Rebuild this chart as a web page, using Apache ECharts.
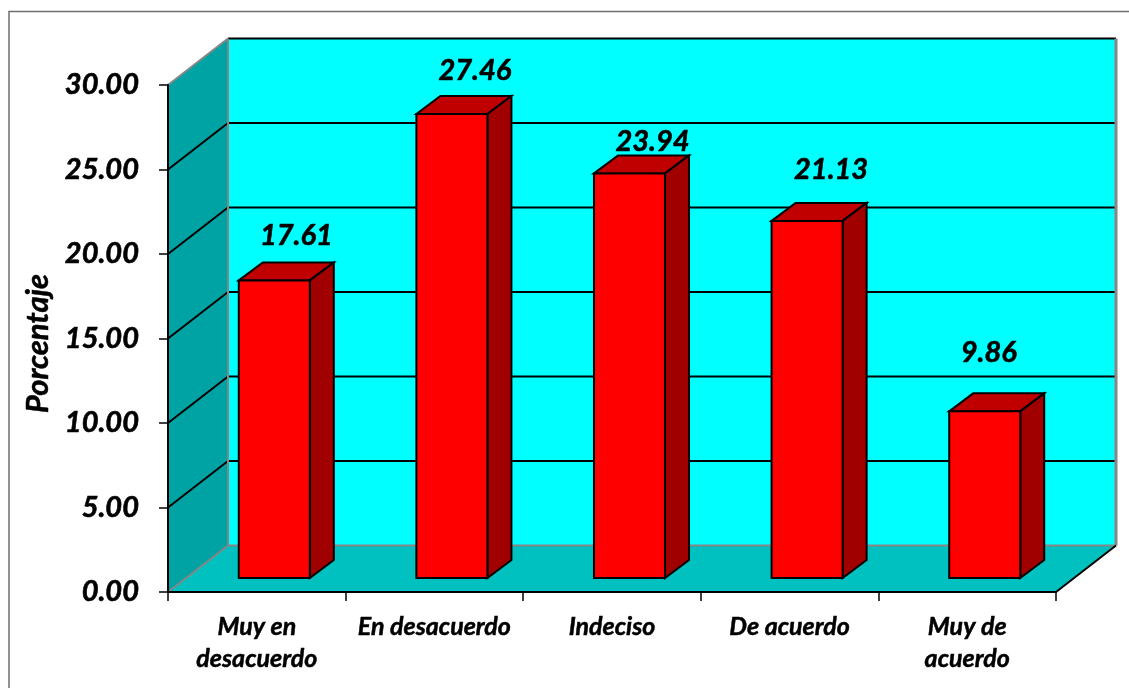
<!DOCTYPE html>
<html>
<head>
<meta charset="utf-8">
<style>
  html, body { margin: 0; padding: 0; background: #fff; }
  #chart { width: 1129px; height: 688px; }
</style>
<script src="https://cdn.jsdelivr.net/npm/echarts@6/dist/echarts.min.js"></script>
</head>
<body>
<div id="chart"></div>
<script>
// datos del grafico
const categories = ['Muy en\ndesacuerdo', 'En desacuerdo', 'Indeciso', 'De acuerdo', 'Muy de\nacuerdo'];
const values = [17.61, 27.46, 23.94, 21.13, 9.86];
const yTicks = [0, 5, 10, 15, 20, 25, 30];

// ajuste de las etiquetas respecto a la barra
const labelLift = [44.5, 43.5, 31.5, 51.5, 58.5];
const labelShift = [22, 23, 23, 24, 4];

// profundidad del efecto 3D
const depthX = 60;
const depthY = 46.5;
const barShiftX = 17.5;
const barShiftY = 14;
const barDepthX = 24;
const barDepthY = 18;
const barRatio = 0.4;

const fontName = 'Lato';
const chart = echarts.init(document.getElementById('chart'));

function poly(points, fill, stroke, width) {
  return {
    type: 'polygon',
    shape: { points: points },
    style: { fill: fill, stroke: stroke || null, lineWidth: width || 0 }
  };
}

function line(x1, y1, x2, y2, stroke, width) {
  return {
    type: 'line',
    shape: { x1: x1, y1: y1, x2: x2, y2: y2 },
    style: { stroke: stroke, lineWidth: width }
  };
}

// paredes, piso y lineas de division
function renderWalls(params, api) {
  const band = api.size([1, 0])[0];
  const left = api.coord([0, 0])[0] - band / 2;
  const right = left + band * categories.length;
  const bottom = api.coord([0, 0])[1];
  const top = api.coord([0, 30])[1];
  const children = [
    poly([[left, bottom], [left + depthX, bottom - depthY], [left + depthX, top - depthY], [left, top]], '#00A3A3'),
    poly([[left + depthX, bottom - depthY], [right + depthX, bottom - depthY], [right + depthX, top - depthY], [left + depthX, top - depthY]], '#00FFFF'),
    poly([[left, bottom], [right, bottom], [right + depthX, bottom - depthY], [left + depthX, bottom - depthY]], '#00C0C0')
  ];
  yTicks.forEach(function (tick) {
    const y = api.coord([0, tick])[1];
    if (tick > 0) {
      children.push(line(left + depthX, y - depthY, right + depthX, y - depthY, '#000', 2));
    }
    if (tick > 0 && tick < 30) {
      children.push(line(left, y, left + depthX, y - depthY, '#000', 2));
    }
  });
  children.push(line(left, top, left + depthX, top - depthY, '#868686', 2));
  children.push(line(left, bottom, left + depthX, bottom - depthY, '#868686', 2));
  children.push(line(left + depthX, bottom - depthY, left + depthX, top - depthY, '#868686', 2));
  children.push(line(left + depthX, bottom - depthY, right + depthX, bottom - depthY, '#868686', 2));
  children.push(line(right + depthX, bottom - depthY, right + depthX, top - depthY, '#868686', 3));
  children.push(line(right, bottom, right + depthX, bottom - depthY, '#000', 2));
  return { type: 'group', children: children };
}

// cada barra: frente, tapa y lado
function renderBar(params, api) {
  const idx = api.value(0);
  const val = api.value(1);
  const band = api.size([1, 0])[0];
  const w = band * barRatio;
  const x0 = api.coord([idx, 0])[0] + barShiftX - w / 2;
  const x1 = x0 + w;
  const yb = api.coord([idx, 0])[1] - barShiftY;
  const yt = api.coord([idx, val])[1] - barShiftY;
  return {
    type: 'group',
    children: [
      poly([[x0, yt], [x0 + barDepthX, yt - barDepthY], [x1 + barDepthX, yt - barDepthY], [x1, yt]], '#C00000', '#000', 2),
      poly([[x1, yt], [x1 + barDepthX, yt - barDepthY], [x1 + barDepthX, yb - barDepthY], [x1, yb]], '#A00000', '#000', 2),
      poly([[x0, yb], [x0, yt], [x1, yt], [x1, yb]], '#FF0000', '#000', 2),
      {
        type: 'text',
        style: {
          x: (x0 + x1) / 2 + labelShift[idx],
          y: yt - labelLift[idx],
          text: val.toFixed(2),
          fill: '#000',
          stroke: '#000',
          lineWidth: 0.6,
          font: 'italic bold 29px ' + fontName,
          align: 'center',
          verticalAlign: 'middle'
        }
      }
    ]
  };
}

const option = {
  animation: false,
  backgroundColor: '#fff',
  graphic: [
    {
      type: 'polyline',
      shape: { points: [[9, 688], [9, 11.5], [1129, 11.5]] },
      style: { stroke: '#6e6e6e', lineWidth: 1.5, fill: null }
    }
  ],
  grid: { left: 168, top: 85, width: 888, height: 507 },
  xAxis: {
    type: 'category',
    data: categories,
    z: 5,
    axisLine: { lineStyle: { color: '#000', width: 2 } },
    axisTick: { show: true, length: 9, lineStyle: { color: '#000', width: 1.5 } },
    axisLabel: {
      interval: 0,
      margin: 19,
      color: '#000',
      fontFamily: fontName,
      fontStyle: 'italic',
      fontWeight: 'bold',
      fontSize: 25,
      lineHeight: 32,
      textBorderColor: '#000',
      textBorderWidth: 0.5
    }
  },
  yAxis: {
    type: 'value',
    min: 0,
    max: 30,
    interval: 5,
    z: 5,
    name: 'Porcentaje',
    nameLocation: 'middle',
    nameGap: 113,
    nameTextStyle: {
      color: '#000',
      fontFamily: fontName,
      fontStyle: 'italic',
      fontWeight: 'bold',
      fontSize: 31,
      padding: [0, 10, 0, 0],
      textBorderColor: '#000',
      textBorderWidth: 0.5
    },
    splitLine: { show: false },
    axisLine: { show: true, lineStyle: { color: '#000', width: 2 } },
    axisTick: { show: true, length: 9, lineStyle: { color: '#000', width: 1.5 } },
    axisLabel: {
      margin: 29,
      padding: [4, 0, 0, 0],
      color: '#000',
      fontFamily: fontName,
      fontStyle: 'italic',
      fontWeight: 'bold',
      fontSize: 29,
      textBorderColor: '#000',
      textBorderWidth: 0.6,
      formatter: function (v) { return v.toFixed(2); }
    }
  },
  series: [
    {
      type: 'custom',
      name: 'fondo',
      silent: true,
      z: 1,
      data: [[0, 0]],
      renderItem: renderWalls
    },
    {
      type: 'custom',
      name: 'Porcentaje',
      z: 2,
      encode: { x: 0, y: 1 },
      data: values.map(function (v, i) { return [i, v]; }),
      renderItem: renderBar
    }
  ]
};

chart.setOption(option);
</script>
</body>
</html>
